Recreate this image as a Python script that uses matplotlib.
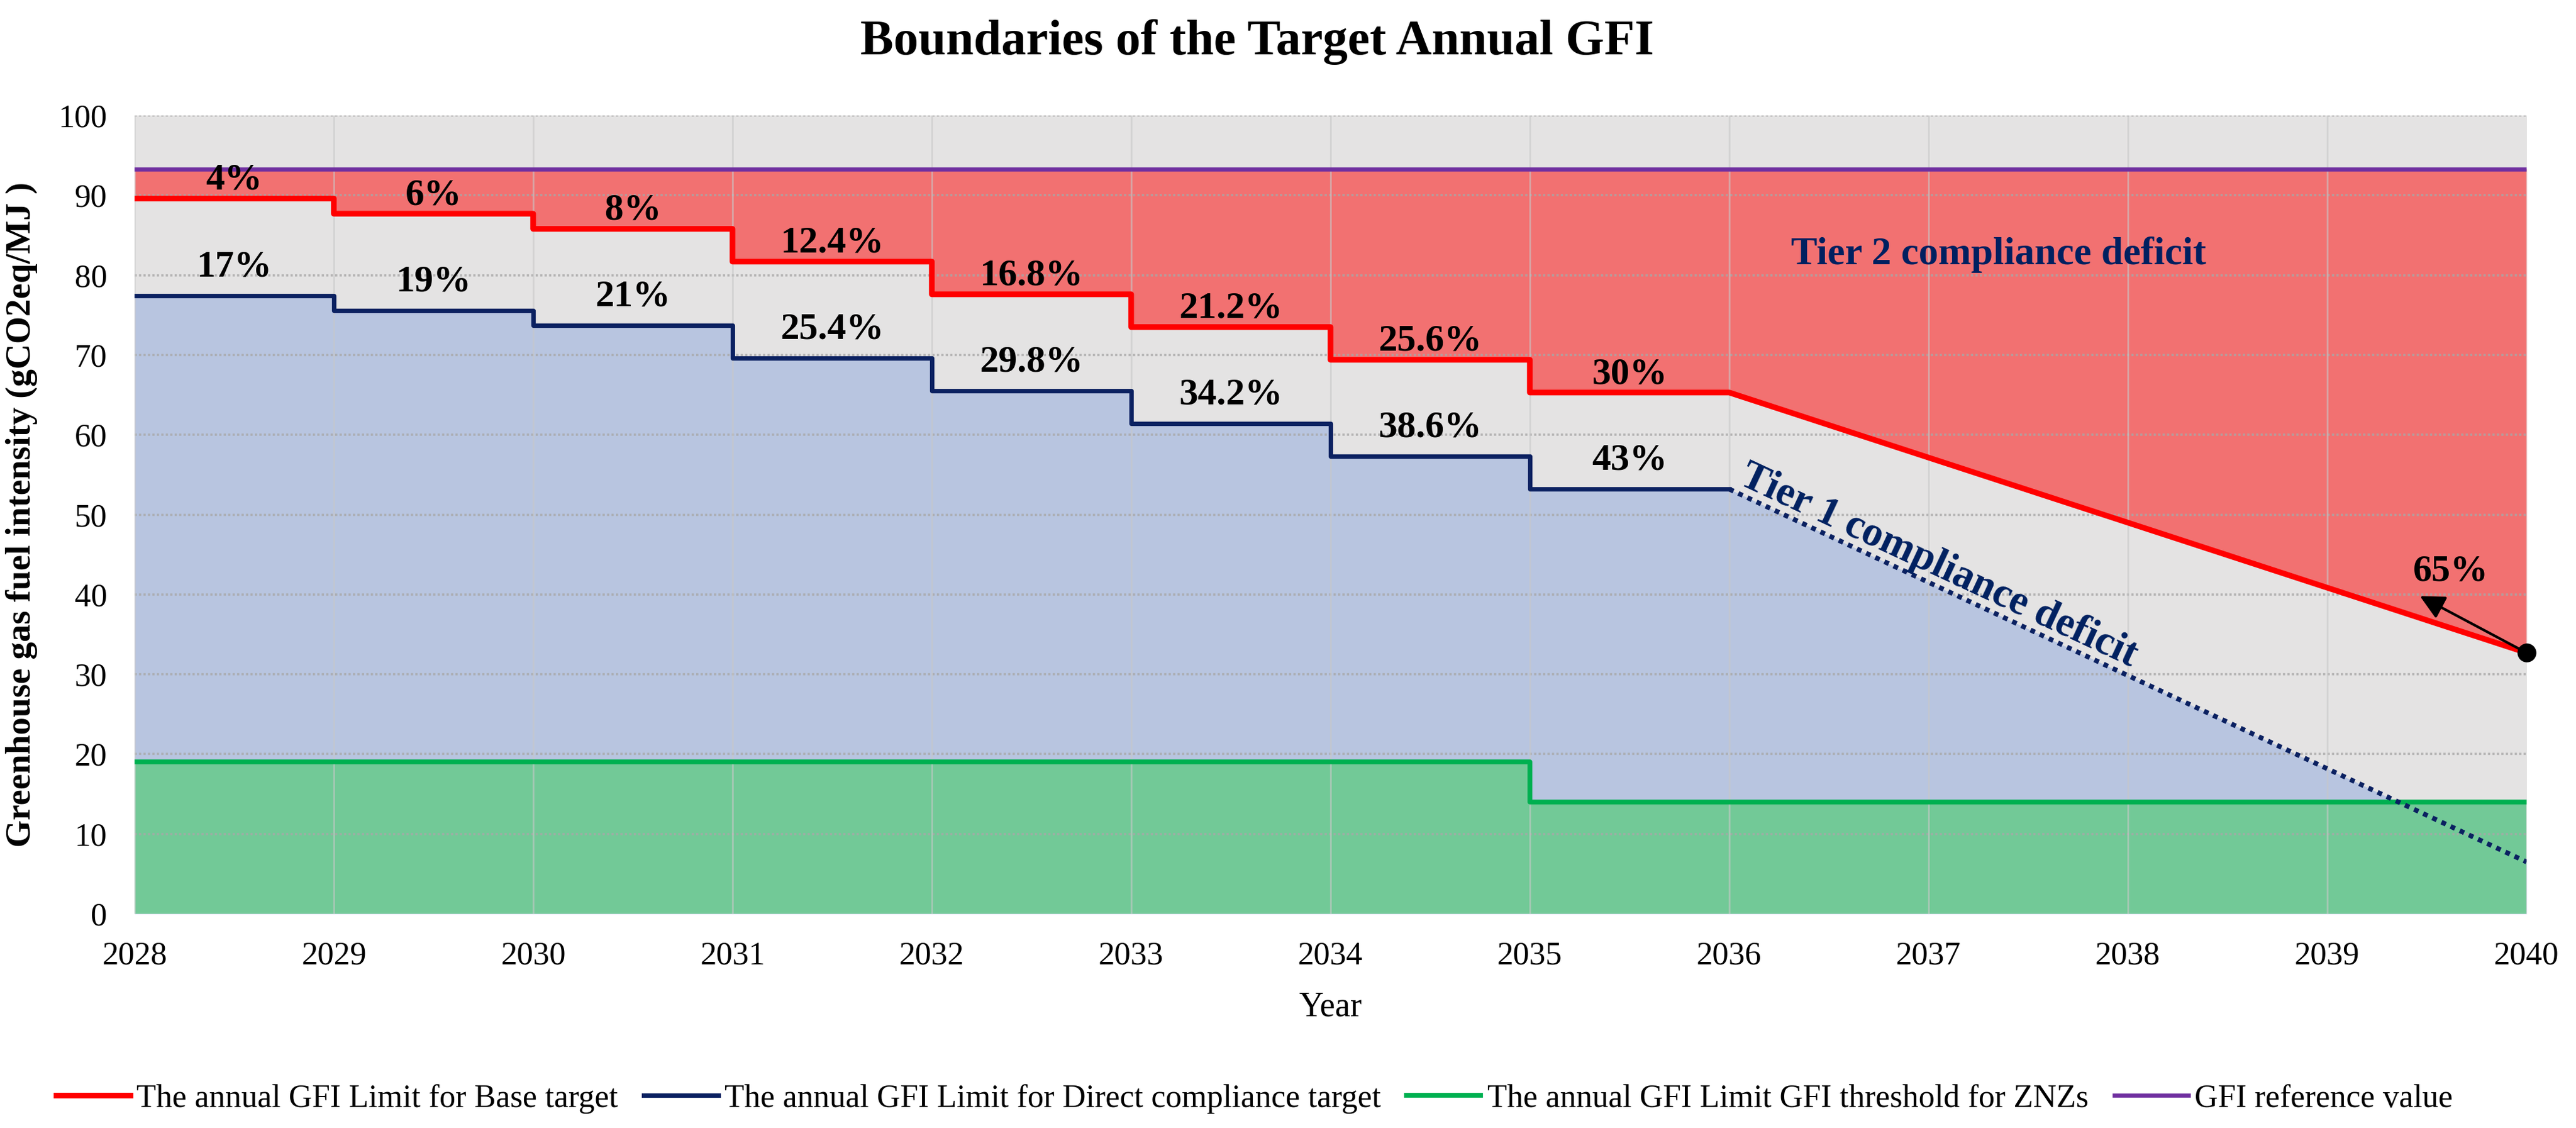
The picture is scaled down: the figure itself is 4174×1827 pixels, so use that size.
import numpy as np
import matplotlib as mpl
mpl.use("Agg")
import matplotlib.pyplot as plt

mpl.rcParams.update({
    "font.family": ["Liberation Serif", "DejaVu Serif"],
    "axes.spines.top": False, "axes.spines.right": False,
    "axes.spines.left": False, "axes.spines.bottom": False,
})

# ---- values ----
YEARS = list(range(2028, 2041))
REF_VALUE = 93.3                                                # GFI reference value
BASE_STEP = [89.6, 87.7, 85.8, 81.7, 77.6, 73.5, 69.4, 65.3]    # 2028..2035, held one year each
BASE_END = 32.7                                                 # 2040
DIRECT_STEP = [77.4, 75.6, 73.7, 69.6, 65.5, 61.4, 57.3, 53.2]  # 2028..2035
DIRECT_END = 6.5                                                # 2040 (dotted)
ZNZ_STEP = [19.0, 19.0, 19.0, 19.0, 19.0, 19.0, 19.0, 14.0, 14.0, 14.0, 14.0, 14.0]  # 2028..2039
BASE_PCT = ["4%", "6%", "8%", "12.4%", "16.8%", "21.2%", "25.6%", "30%"]
DIRECT_PCT = ["17%", "19%", "21%", "25.4%", "29.8%", "34.2%", "38.6%", "43%"]
END_PCT = "65%"

RED, NAVY, GREEN, PURPLE = "#FF0000", "#0B2161", "#00B050", "#7030A0"
RED_F, BLUE_F, GREEN_F, BG = "#F27171", "#B8C5E0", "#72C997", "#E4E3E3"


def steps(x0, vals):
    xs, ys = [], []
    for i, v in enumerate(vals):
        xs += [x0 + i, x0 + i + 1]
        ys += [v, v]
    return np.array(xs, float), np.array(ys, float)


bx, by = steps(YEARS[0], BASE_STEP)
bx, by = np.append(bx, YEARS[-1]), np.append(by, BASE_END)
dx, dy = steps(YEARS[0], DIRECT_STEP)
dx_full, dy_full = np.append(dx, YEARS[-1]), np.append(dy, DIRECT_END)
zx, zy = steps(YEARS[0], ZNZ_STEP)

fig = plt.figure(figsize=(20.87, 9.135), dpi=200)
ax = fig.add_axes([0.0522, 0.1899, 0.9286, 0.7077])
ax.set_facecolor(BG)

ax.fill_between(dx_full, 0, dy_full, color=BLUE_F, lw=0, zorder=1)
ax.fill_between(zx, 0, zy, color=GREEN_F, lw=0, zorder=2)
ax.fill_between(bx, by, REF_VALUE, color=RED_F, lw=0, zorder=3)

for y in range(10, 101, 10):
    ax.axhline(y, color="#A8A8A8", lw=1.3, ls=(0, (1, 1)), alpha=0.8, zorder=4)
for x in YEARS:
    ax.axvline(x, color="#C8C8C8", lw=1.0, alpha=0.6, zorder=4)

ax.plot([YEARS[0], YEARS[-1]], [REF_VALUE, REF_VALUE], color=PURPLE, lw=2.4, zorder=5,
        label="GFI reference value")
ax.plot(zx, zy, color=GREEN, lw=2.8, zorder=6, label="The annual GFI Limit GFI threshold for ZNZs")
ax.plot(dx, dy, color=NAVY, lw=2.6, zorder=6, label="The annual GFI Limit for Direct compliance target")
ax.plot([dx[-1], YEARS[-1]], [dy[-1], DIRECT_END], color=NAVY, lw=2.8, ls=(0, (1, 1.1)), zorder=6)
ax.plot(bx, by, color=RED, lw=3.3, zorder=7, label="The annual GFI Limit for Base target")

lab = dict(fontsize=22, fontweight="bold", ha="center", va="center", zorder=9)
for i, (p, v) in enumerate(zip(BASE_PCT, BASE_STEP)):
    ax.text(YEARS[0] + i + 0.5, v + 2.3, p, **lab)
for i, (p, v) in enumerate(zip(DIRECT_PCT, DIRECT_STEP)):
    ax.text(YEARS[0] + i + 0.5, v + 3.6, p, **lab)

ax.text(2037.35, 82.6, "Tier 2 compliance deficit", color="#002060", fontsize=23,
        fontweight="bold", ha="center", va="center", zorder=9)
ax.text(2037.05, 43.6, "Tier 1 compliance deficit", color="#002060", fontsize=24,
        fontweight="bold", ha="center", va="center", rotation=-25, rotation_mode="anchor", zorder=9)

ax.plot(YEARS[-1], BASE_END, "o", color="black", ms=10, clip_on=False, zorder=10)
ax.annotate("", xy=(2039.45, 40.0), xytext=(YEARS[-1], BASE_END),
            arrowprops=dict(arrowstyle="-|>", color="black", lw=1.5, mutation_scale=30), zorder=10)
ax.text(2039.62, 42.9, END_PCT, **lab)

ax.set_xlim(YEARS[0], YEARS[-1])
ax.set_ylim(0, 100)
ax.set_xticks(YEARS)
ax.set_yticks(range(0, 101, 10))
ax.tick_params(length=0, labelsize=19, pad=16)
ax.set_xlabel("Year", fontsize=20, labelpad=12)
ax.set_ylabel("Greenhouse gas fuel intensity (gCO2eq/MJ )", fontsize=20.5, fontweight="bold", labelpad=12)
fig.text(0.488, 0.963, "Boundaries of the Target Annual GFI", fontsize=29, fontweight="bold",
         ha="center", va="center")

h, l = ax.get_legend_handles_labels()
order = [3, 2, 1, 0]
fig.legend([h[i] for i in order], [l[i] for i in order], loc="center", bbox_to_anchor=(0.487, 0.026),
           ncol=4, frameon=False, fontsize=18.8, handlelength=2.3, handletextpad=0.2, columnspacing=0.8)

fig.savefig("out.png", dpi=200)
